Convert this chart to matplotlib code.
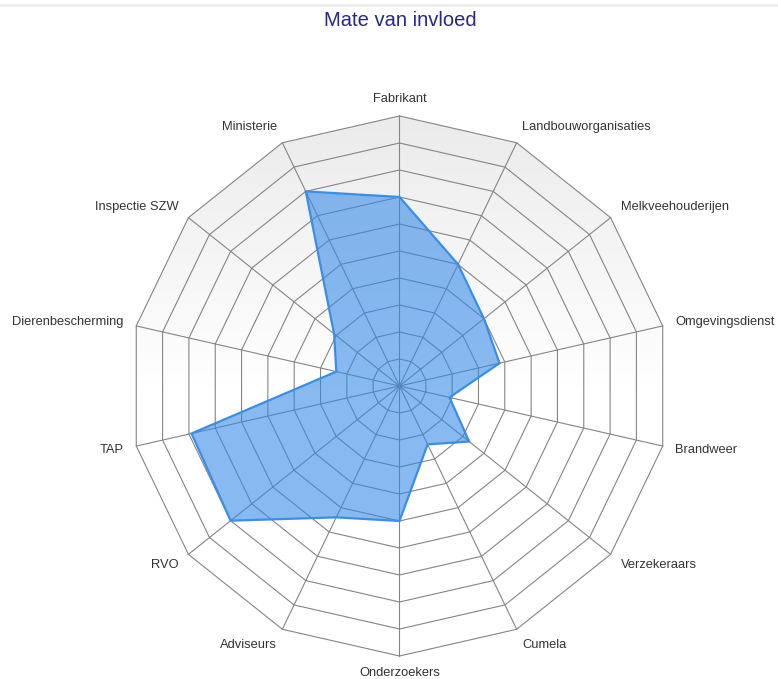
import numpy as np
import matplotlib
matplotlib.use("Agg")
import matplotlib.pyplot as plt
from matplotlib.patches import Polygon
from matplotlib.colors import LinearSegmentedColormap

categories = ["Fabrikant", "Landbouworganisaties", "Melkveehouderijen", "Omgevingsdienst",
              "Brandweer", "Verzekeraars", "Cumela", "Onderzoekers", "Adviseurs", "RVO",
              "TAP", "Dierenbescherming", "Inspectie SZW", "Ministerie"]
values = [7, 5, 4, 3.8, 1.9, 3.3, 2.4, 5, 5.4, 8, 7.9, 2.4, 3.1, 8]
ring_levels = list(range(1, 11))
title = "Mate van invloed"

plt.rcParams['font.family'] = ['Liberation Sans', 'DejaVu Sans']

W, H = 778, 679
fig = plt.figure(figsize=(W / 100, H / 100), dpi=100)
ax = fig.add_axes([0, 0, 1, 1])
ax.set_axis_off()

cx_px, cy_px, px_per_unit = 399.5, 386.0, 27.0
ax.set_xlim(-cx_px / px_per_unit, (W - cx_px) / px_per_unit)
ax.set_ylim(-(H - cy_px) / px_per_unit, cy_px / px_per_unit)

n = len(categories)
theta = np.arange(n) * 2 * np.pi / n
sx, sy = np.sin(theta), np.cos(theta)
rmax = max(ring_levels)

# background gradient clipped to outer polygon
outer = np.column_stack([rmax * sx, rmax * sy])
grad = np.linspace(0, 1, 256).reshape(-1, 1)
cmap = LinearSegmentedColormap.from_list("bg", ["#ffffff", "#ffffff", "#ebebeb"])
im = ax.imshow(grad, extent=(-rmax, rmax, -rmax, rmax), origin="lower", cmap=cmap,
               aspect="auto", zorder=0, vmin=0, vmax=1)
clip = Polygon(outer, closed=True, transform=ax.transData, facecolor="none", edgecolor="none")
ax.add_patch(clip)
im.set_clip_path(clip)

# rings
for lv in ring_levels:
    xs = np.append(lv * sx, lv * sx[0])
    ys = np.append(lv * sy, lv * sy[0])
    ax.plot(xs, ys, color="#858585", lw=0.8, zorder=1)
# spokes
for i in range(n):
    ax.plot([0, rmax * sx[i]], [0, rmax * sy[i]], color="#858585", lw=0.8, zorder=1)

# data polygon
v = np.array(values)
poly = np.column_stack([v * sx, v * sy])
ax.add_patch(Polygon(poly, closed=True, facecolor=(50/255, 135/255, 232/255, 0.58),
                     edgecolor="#3a8ee6", lw=1.6, zorder=3))

# labels
lab_rx = 283 / px_per_unit
lab_ry = 287 / px_per_unit
for i, cat in enumerate(categories):
    x, y = lab_rx * sx[i], lab_ry * sy[i]
    if sx[i] > 0.05:
        ha = "left"
    elif sx[i] < -0.05:
        ha = "right"
    else:
        ha = "center"
    ax.text(x, y, cat, ha=ha, va="center", fontsize=9.3, color="#333333", zorder=4)

# top border line
fig.add_artist(plt.Line2D([0, 1], [1 - 5 / H, 1 - 5 / H], color="#ececec", lw=2,
                          transform=fig.transFigure))

fig.text(400 / W, 1 - 20 / H, title, ha="center", va="center", fontsize=14.5, color="#26268f")

fig.savefig("out.png", dpi=100)
